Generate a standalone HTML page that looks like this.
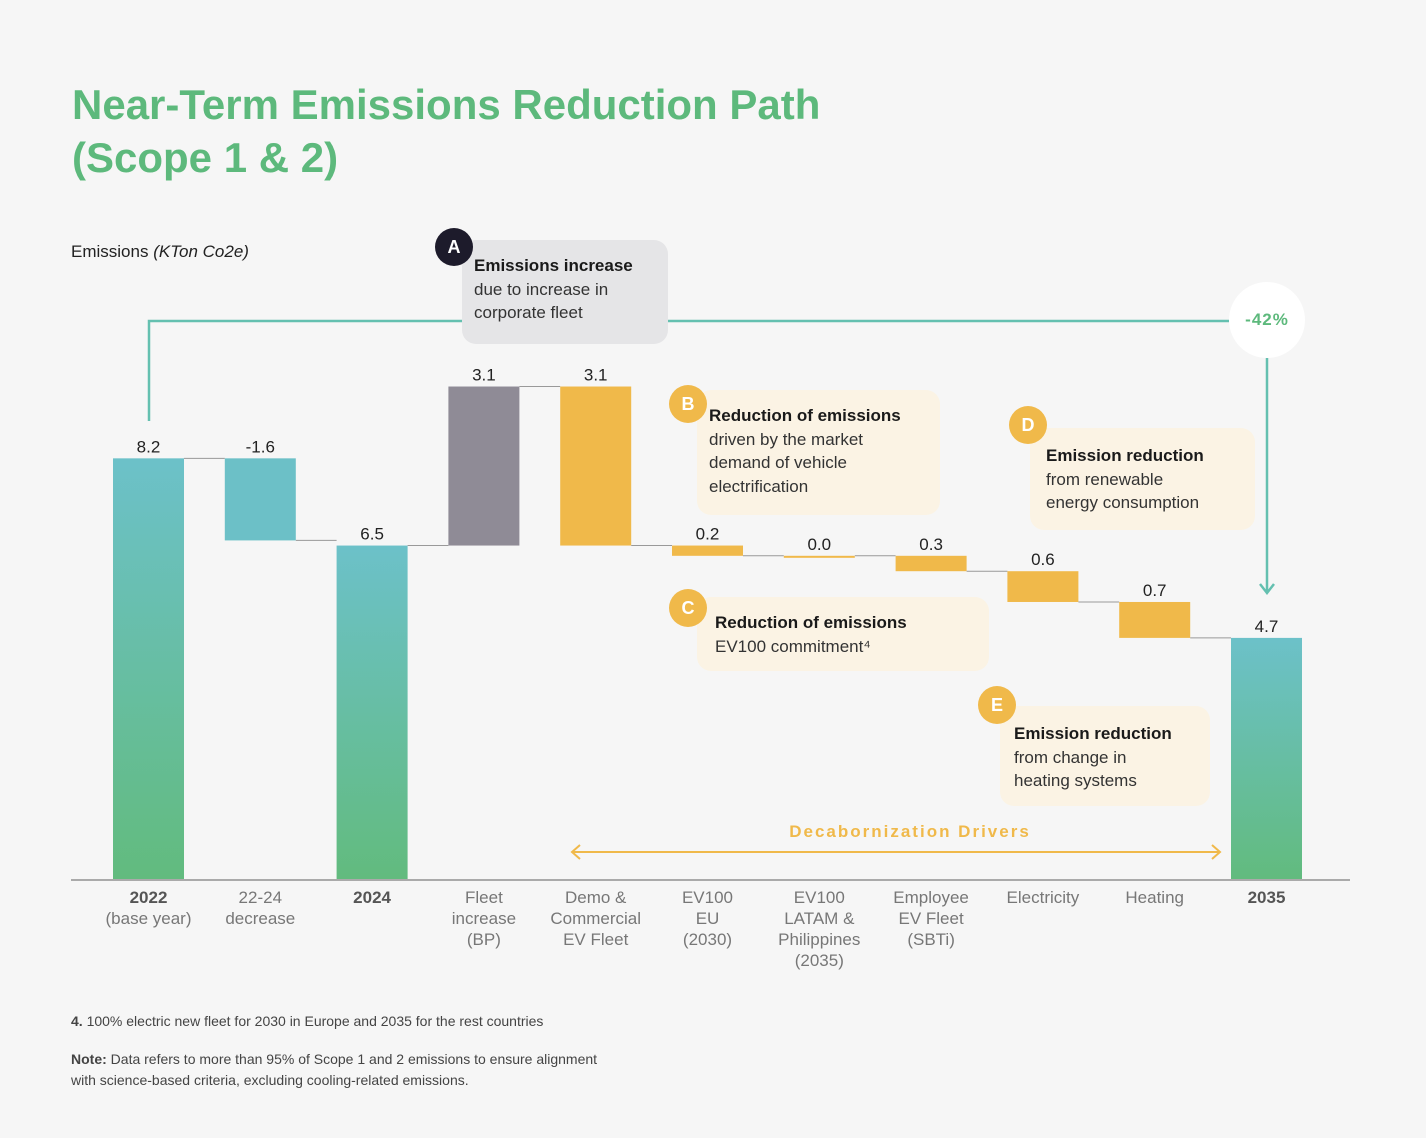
<!DOCTYPE html>
<html><head><meta charset="utf-8">
<style>
body{margin:0;background:#f6f6f6;font-family:"Liberation Sans",sans-serif;}
#wrap{position:relative;width:1426px;height:1138px;overflow:hidden;background:#f6f6f6;}
.t{position:absolute;}
.box{position:absolute;border-radius:14px;font-size:17px;line-height:23.5px;color:#333;padding:14px 12px;box-sizing:border-box;}
.box b{color:#1a1a1a;}
.badge{position:absolute;width:38px;height:38px;border-radius:50%;color:#fff;font-weight:bold;font-size:18px;text-align:center;line-height:38px;}
</style></head><body>
<div id="wrap">
<div class="t" style="left:72px;top:78px;font-size:42px;line-height:53px;color:#5db97c;font-weight:bold;">Near-Term Emissions Reduction Path<br>(Scope 1 &amp; 2)</div>
<div class="t" style="left:71px;top:242px;font-size:17px;color:#222;">Emissions <i>(KTon Co2e)</i></div>
<svg id="svg" width="1426" height="1138" style="position:absolute;left:0;top:0">
<defs><linearGradient id="g" x1="0" y1="0" x2="0" y2="1"><stop offset="0" stop-color="#6cc1c9"/><stop offset="1" stop-color="#62bb7e"/></linearGradient></defs>
</svg>
<div class="box" style="left:462px;top:240px;width:206px;height:104px;background:#e5e5e7;"><b>Emissions increase</b><br>due to increase in<br>corporate fleet</div>
<div class="badge" style="left:435px;top:228px;background:#1d1b2b;">A</div>
<div class="box" style="left:697px;top:390px;width:243px;height:125px;background:#fbf3e4;"><b>Reduction of emissions</b><br>driven by the market<br>demand of vehicle<br>electrification</div>
<div class="badge" style="left:669px;top:385px;background:#f0b94a;">B</div>
<div class="box" style="left:697px;top:597px;width:292px;height:74px;background:#fbf3e4;padding-left:18px;"><b>Reduction of emissions</b><br>EV100 commitment⁴</div>
<div class="badge" style="left:669px;top:589px;background:#f0b94a;">C</div>
<div class="box" style="left:1030px;top:428px;width:225px;height:102px;background:#fbf3e4;padding-left:16px;padding-top:16px;"><b>Emission reduction</b><br>from renewable<br>energy consumption</div>
<div class="badge" style="left:1009px;top:406px;background:#f0b94a;">D</div>
<div class="box" style="left:1000px;top:706px;width:210px;height:100px;background:#fbf3e4;padding-left:14px;padding-top:16px;"><b>Emission reduction</b><br>from change in<br>heating systems</div>
<div class="badge" style="left:978px;top:686px;background:#f0b94a;">E</div>
<div class="t" style="left:1229px;top:282px;width:76px;height:76px;border-radius:50%;background:#fff;color:#5db97c;font-weight:bold;font-size:17px;text-align:center;line-height:76px;letter-spacing:1px;">-42%</div>
<div class="t" style="left:640px;top:822px;width:540px;text-align:center;color:#f0b94a;font-weight:bold;font-size:17px;letter-spacing:2px;">Decabornization Drivers</div>
<div class="t" style="left:71px;top:1013px;font-size:14px;color:#444;"><b>4.</b> 100% electric new fleet for 2030 in Europe and 2035 for the rest countries</div>
<div class="t" style="left:71px;top:1049px;font-size:14px;line-height:21px;color:#444;"><b>Note:</b> Data refers to more than 95% of Scope 1 and 2 emissions to ensure alignment<br>with science-based criteria, excluding cooling-related emissions.</div>
</div>
<script>
const categories=["2022|(base year)","22-24|decrease","2024","Fleet|increase|(BP)","Demo &|Commercial|EV Fleet","EV100|EU|(2030)","EV100|LATAM &|Philippines|(2035)","Employee|EV Fleet|(SBTi)","Electricity","Heating","2035"];
const values=[8.2,-1.6,6.5,3.1,-3.1,-0.2,0.0,-0.3,-0.6,-0.7,4.7];
const kinds=["total","delta","total","delta","delta","delta","delta","delta","delta","delta","total"];
const valueLabels=["8.2","-1.6","6.5","3.1","3.1","0.2","0.0","0.3","0.6","0.7","4.7"];
const boldCats=[true,false,true,false,false,false,false,false,false,false,true];
const svg=document.getElementById('svg');const NS="http://www.w3.org/2000/svg";
const baseY=879,unit=51.3,x0=113,step=111.8,bw=71;
const y=v=>baseY-v*unit;const x=i=>x0+i*step;
function mk(t,a){const e=document.createElementNS(NS,t);for(const k in a)e.setAttribute(k,a[k]);svg.appendChild(e);return e;}
let run=0;
categories.forEach((c,i)=>{
 let a,b,fill;
 if(kinds[i]==="total"){a=0;b=values[i];run=values[i];fill="url(#g)";}
 else{a=run;b=run+values[i];run=b;fill=values[i]>0?"#8f8b96":(i===1?"#6cc0c7":"#f0b94a");}
 const top=Math.max(a,b),bot=Math.min(a,b);
 const r=mk('rect',{x:x(i),y:y(top),width:bw,height:Math.max(2,(top-bot)*unit),fill:fill});
 
 
 const tx=mk('text',{x:x(i)+bw/2,y:y(top)-6,'text-anchor':'middle','font-size':17,fill:'#222','font-family':'Liberation Sans'});tx.textContent=valueLabels[i];
 
 
 if(i<categories.length-1){const nxt=kinds[i]==="total"?values[i]:run;
  const l=mk('line',{x1:x(i)+bw,x2:x(i+1),y1:y(nxt),y2:y(nxt),stroke:'#999','stroke-width':1});
  
  }
 const lines=c.split('|');
 lines.forEach((ln,j)=>{const bold=boldCats[i]&&j===0;const t=mk('text',{x:x(i)+bw/2,y:903+j*21,'text-anchor':'middle','font-size':17,fill:bold?'#555':'#777','font-weight':bold?'bold':'normal','font-family':'Liberation Sans'});t.textContent=ln;
  
  });
});
const ax=mk('line',{x1:71,x2:1350,y1:baseY+1,y2:baseY+1,stroke:'#aaa','stroke-width':2});


const br=mk('path',{d:`M149 421 V321 H462 M668 321 H1229 M1267 358 V592 M1260 584 L1267 593 L1274 584`,stroke:'#64c0b0',fill:'none','stroke-width':2.5});


const ar=mk('path',{d:'M572 852 H1220 M580 845 L572 852 L580 859 M1212 845 L1220 852 L1212 859',stroke:'#f0b94a',fill:'none','stroke-width':2});


</script>
</body></html>
